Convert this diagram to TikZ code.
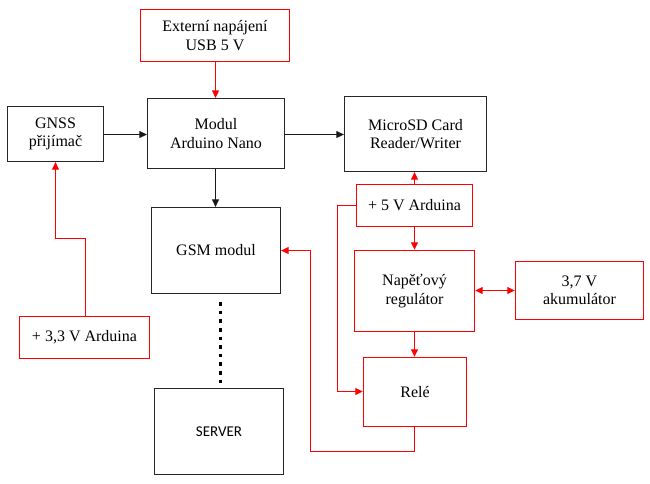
\documentclass[tikz,border=0pt]{standalone}
\usepackage{fontspec}
\setmainfont{Liberation Serif}
\newfontfamily\calib{Carlito}
\usetikzlibrary{arrows.meta}
\begin{document}
\begin{tikzpicture}[x=1pt,y=-1pt,
  blk/.style={draw=black!85, line width=1.3pt, fill=white, inner sep=0pt, align=center,
    font=\fontsize{16}{18.5}\selectfont},
  redbox/.style={blk, draw=red, line width=1.4pt},
  conn/.style={line width=1.2pt, black!90, -{Triangle[length=7.5pt,width=7pt]}},
  rconn/.style={line width=1.3pt, red, -{Triangle[length=7.5pt,width=7pt]}},
  dotline/.style={line width=3.6pt, black, dash pattern=on 3.6pt off 5pt}
]
\useasboundingbox (0,0) rectangle (650,483);
\fill[white] (0,0) rectangle (650,483);

\node[redbox, minimum width=149pt, minimum height=52pt] (ext) at (215,35.5) {Externí napájení\\USB 5 V};
\node[blk, minimum width=137pt, minimum height=70pt] (modul) at (216,133.5) {Modul\\Arduino Nano};
\node[blk, minimum width=96pt, minimum height=55pt] (gnss) at (55.5,134) {GNSS\\přijímač};
\node[blk, minimum width=129pt, minimum height=86pt] (gsm) at (216,250.5) {GSM modul};
\node[redbox, minimum width=130pt, minimum height=42pt] (p33) at (84.5,337.5) {+ 3,3 V Arduina};
\node[blk, minimum width=129pt, minimum height=86pt, font=\calib\fontsize{15}{18}\selectfont] (server) at (219,431.5) {SERVER};
\node[blk, minimum width=142pt, minimum height=75pt] (sd) at (415.5,134) {MicroSD Card\\Reader/Writer};
\node[redbox, minimum width=116pt, minimum height=42pt] (p5) at (414.5,205.5) {+ 5 V Arduina};
\node[redbox, minimum width=120pt, minimum height=81pt] (nap) at (414.5,291) {Napěťový\\regulátor};
\node[redbox, minimum width=128pt, minimum height=58pt] (akum) at (579.5,290.5) {3,7 V\\akumulátor};
\node[redbox, minimum width=103pt, minimum height=69pt] (rele) at (415,392) {Relé};

% black connectors
\draw[conn] (gnss.east |- 0,134.5) -- (modul.west |- 0,134.5);
\draw[conn] (modul.east |- 0,134.5) -- (sd.west |- 0,134.5);
\draw[conn] (modul.south -| 215.5,0) -- (gsm.north -| 215.5,0);
\draw[dotline] (gsm.south -| 220.5,0) ++(0,8) -- (server.north -| 220.5,0);

% red connectors
\draw[rconn] (ext.south -| 215.5,0) -- (modul.north -| 215.5,0);
\coordinate (g1) at (85.5,238.5);
\coordinate (g2) at (55.5,238.5);
\draw[rconn] (p33.north -| g1) -- (g1) -- (g2) -- (gnss.south -| g2);
\draw[rconn] (p5.north -| 414.5,0) -- (sd.south -| 414.5,0);
\draw[rconn] (p5.south -| 414.5,0) -- (nap.north -| 414.5,0);
\draw[line width=1.3pt, red, {Triangle[length=7.5pt,width=7pt]}-{Triangle[length=7.5pt,width=7pt]}] (nap.east |- 0,290.5) -- (akum.west |- 0,290.5);
\draw[rconn] (nap.south -| 414.5,0) -- (rele.north -| 414.5,0);
\coordinate (r1) at (337.5,205.5);
\coordinate (r2) at (337.5,391.5);
\draw[rconn] (p5.west |- r1) -- (r1) -- (r2) -- (rele.west |- r2);
\coordinate (s1) at (414.5,451.5);
\coordinate (s2) at (310.5,451.5);
\coordinate (s3) at (310.5,250.5);
\draw[rconn] (rele.south -| s1) -- (s1) -- (s2) -- (s3) -- (gsm.east |- s3);
\end{tikzpicture}
\end{document}
